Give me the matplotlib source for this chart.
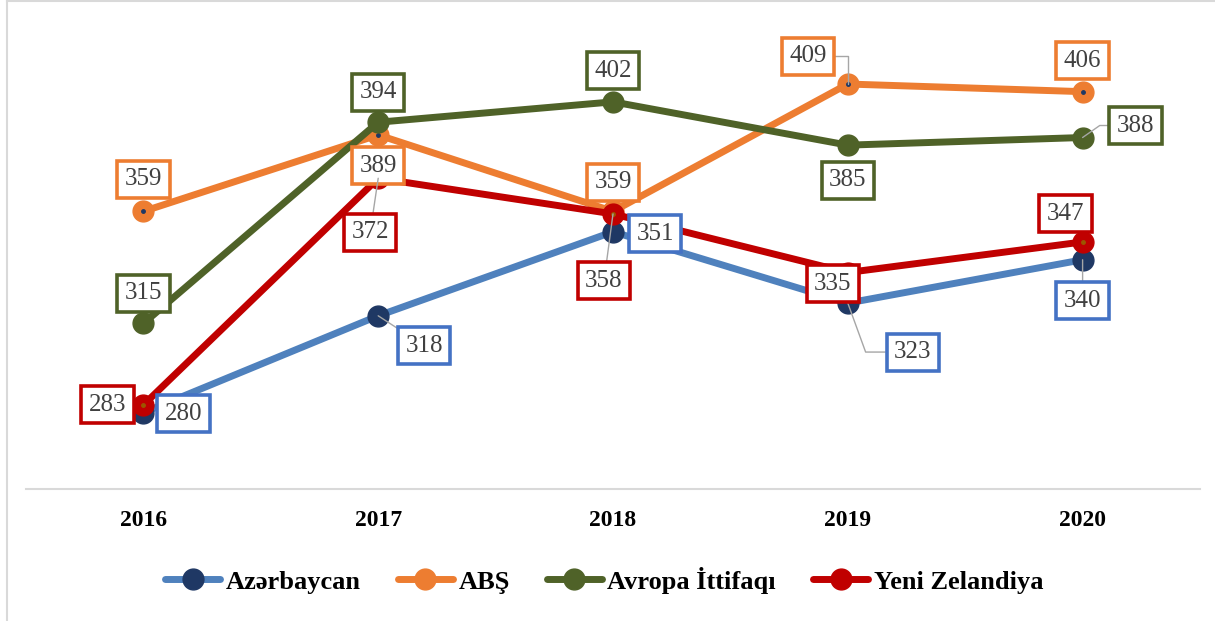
import matplotlib
matplotlib.use("Agg")
import matplotlib.pyplot as plt
from matplotlib.lines import Line2D

plt.rcParams['font.family'] = ['Liberation Serif', 'DejaVu Serif']

# data
years = ['2016', '2017', '2018', '2019', '2020']
azerbaycan = [280, 318, 351, 323, 340]
abs_vals = [359, 389, 359, 409, 406]
avropa = [315, 394, 402, 385, 388]
zelandiya = [283, 372, 358, 335, 347]

series_names = ['Azərbaycan', 'ABŞ', 'Avropa İttifaqı', 'Yeni Zelandiya']

# label offsets in pixels (dx, dy) relative to point, and leader line style
label_pos = {
    'Azərbaycan': [(40, -1, None), (46, -30, 'straight'), (42, -2, None),
                   (65, -49, 'angle,angleA=0,angleB=110,rad=0'), (0, -41, 'straight')],
    'ABŞ': [(0, 32, None), (0, -31, None), (0, 29, None),
            (-40, 28, 'angle,angleA=0,angleB=90,rad=0'), (0, 31, None)],
    'Avropa İttifaqı': [(0, 30, None), (0, 30, None), (0, 31, None), (0, -35, None),
                        (53, 12, 'angle,angleA=0,angleB=35,rad=0')],
    'Yeni Zelandiya': [(-36, 0, None), (-8, -54, 'straight'), (-9, -67, 'straight'),
                       (-15, -11, None), (-17, 28, None)],
}

line_colors = ['#4F81BD', '#ED7D31', '#4F6228', '#C00000']
marker_colors = ['#1F3864', '#ED7D31', '#4F6228', '#C00000']
box_colors = ['#4472C4', '#ED7D31', '#4F6228', '#C00000']

fig = plt.figure(figsize=(12.15, 6.21), dpi=100)
ax = fig.add_axes([26 / 1215, 132 / 621, 1174 / 1215, 433 / 621])

x = list(range(len(years)))
all_vals = [azerbaycan, abs_vals, avropa, zelandiya]

for i, (name, vals) in enumerate(zip(series_names, all_vals)):
    ax.plot(x, vals, color=line_colors[i], lw=5, marker='o', markersize=15,
            markerfacecolor=marker_colors[i], markeredgecolor=marker_colors[i],
            label=name, zorder=2 + i, solid_capstyle='round')

# tiny center dots seen in the original
ax.plot(x, abs_vals, ls='none', marker='o', markersize=2.5, color='#1F3864', zorder=3)
ax.plot(x, zelandiya, ls='none', marker='o', markersize=2.5, color='#9C5700', zorder=6)

for i, (name, vals) in enumerate(zip(series_names, all_vals)):
    for j, v in enumerate(vals):
        dx, dy, leader = label_pos[name][j]
        arrow = None
        if leader == 'straight':
            arrow = dict(arrowstyle='-', color='#A6A6A6', lw=1, shrinkA=0, shrinkB=0)
        elif leader is not None:
            arrow = dict(arrowstyle='-', color='#A6A6A6', lw=1, shrinkA=0, shrinkB=0,
                         connectionstyle=leader)
        ax.annotate(str(v), xy=(j, v), xytext=(dx, dy), textcoords='offset pixels',
                    ha='center', va='center', fontsize=18, color='#404040',
                    bbox=dict(boxstyle='square,pad=0.3', fc='white',
                              ec=box_colors[i], lw=2.6),
                    arrowprops=arrow, zorder=10, annotation_clip=False)

ax.set_xlim(-0.5, 4.5)
ax.set_ylim(250, 420)
ax.set_xticks(x)
ax.set_xticklabels(years, fontsize=17, fontweight='bold')
ax.tick_params(axis='x', length=0, pad=15)
ax.set_yticks([])
for s in ['left', 'right', 'top']:
    ax.spines[s].set_visible(False)
ax.spines['bottom'].set_color('#D9D9D9')
ax.spines['bottom'].set_linewidth(1.5)

fig.legend(loc='center', bbox_to_anchor=(604 / 1215, 1 - 580 / 621), ncol=4,
           frameon=False, handlelength=2.1, handletextpad=0.2, columnspacing=1.4,
           prop={'size': 19, 'weight': 'bold'})

# outer frame (left and top edges visible)
fig.lines.append(Line2D([7 / 1215, 7 / 1215], [0, 1 - 1 / 621], transform=fig.transFigure,
                        color='#D9D9D9', lw=1.5))
fig.lines.append(Line2D([7 / 1215, 1], [1 - 1 / 621, 1 - 1 / 621], transform=fig.transFigure,
                        color='#D9D9D9', lw=1.5))

fig.savefig('out.png', dpi=100)
